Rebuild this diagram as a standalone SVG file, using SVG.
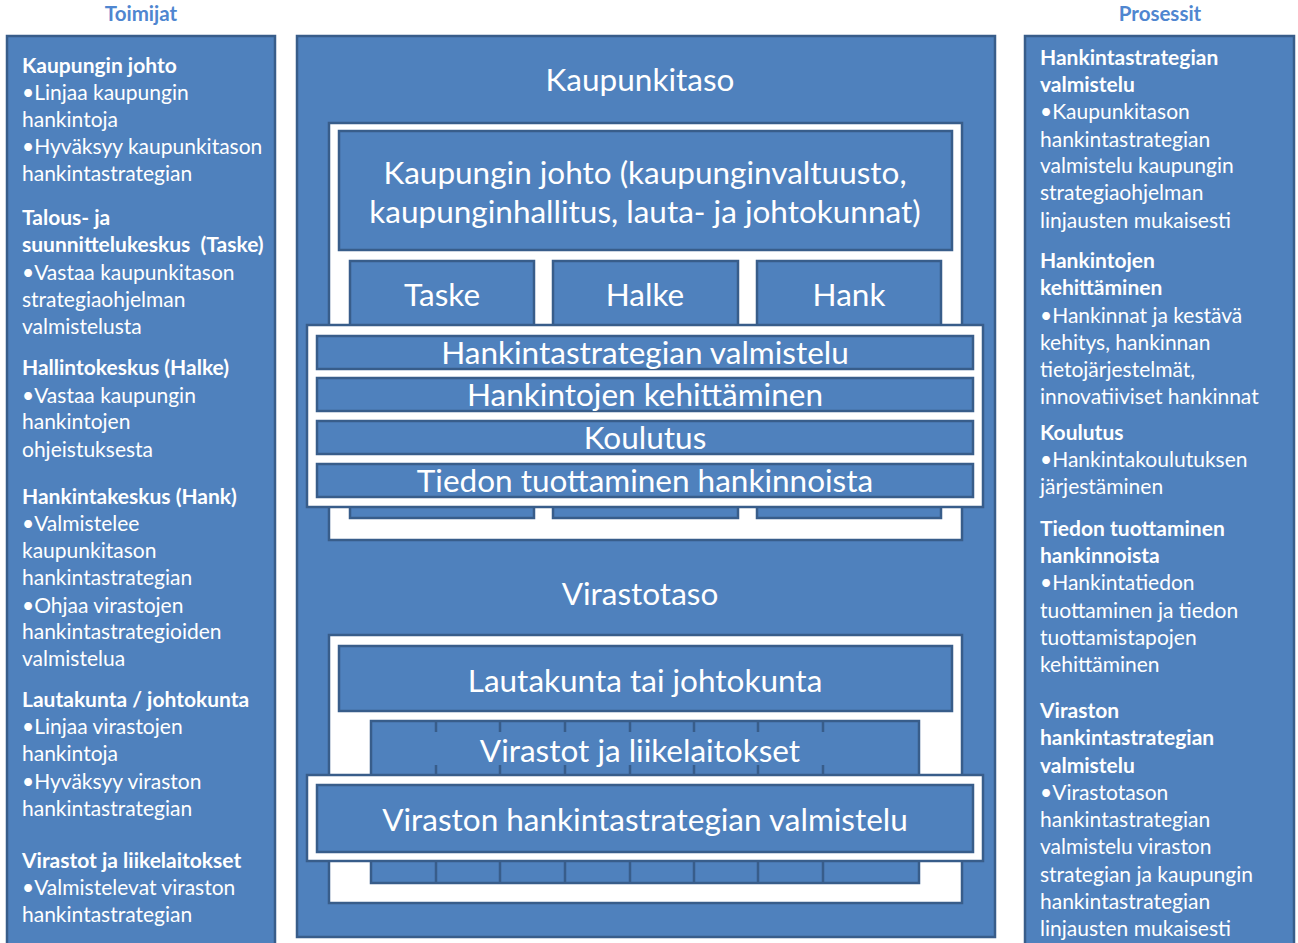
<svg xmlns="http://www.w3.org/2000/svg" width="1298" height="943" viewBox="0 0 1298 943">
<style>
.box{fill:#4F81BD;stroke:#385D8A;stroke-width:2.5}
.wbox{fill:#FFFFFF;stroke:#385D8A;stroke-width:2.5}
.seg{stroke:#385D8A;stroke-width:2.5}
text{font-family:Lato,"Open Sans","Liberation Sans",sans-serif;fill:#FFFFFF}
.hdr{font-size:20.5px;font-weight:bold;fill:#4F86D0;text-anchor:middle}
.side{font-size:21px}
.b{font-weight:bold}
.big{font-size:31.5px;text-anchor:middle}
</style>
<text class="hdr" x="141" y="21">Toimijat</text>
<text class="hdr" x="1160" y="21">Prosessit</text>

<g id="toimijat">
<rect class="box" x="7" y="36" width="268" height="912"/>
<text class="side" x="22">
<tspan class="b" x="22" y="73">Kaupungin johto</tspan>
<tspan x="22" y="100">•Linjaa kaupungin</tspan>
<tspan x="22" y="127">hankintoja</tspan>
<tspan x="22" y="154">•Hyväksyy kaupunkitason</tspan>
<tspan x="22" y="181">hankintastrategian</tspan>
<tspan class="b" x="22" y="225">Talous- ja</tspan>
<tspan class="b" x="22" y="252">suunnittelukeskus &#160;(Taske)</tspan>
<tspan x="22" y="280">•Vastaa kaupunkitason</tspan>
<tspan x="22" y="307">strategiaohjelman</tspan>
<tspan x="22" y="334">valmistelusta</tspan>
<tspan class="b" x="22" y="375">Hallintokeskus (Halke)</tspan>
<tspan x="22" y="403">•Vastaa kaupungin</tspan>
<tspan x="22" y="429">hankintojen</tspan>
<tspan x="22" y="457">ohjeistuksesta</tspan>
<tspan class="b" x="22" y="504">Hankintakeskus (Hank)</tspan>
<tspan x="22" y="531">•Valmistelee</tspan>
<tspan x="22" y="558">kaupunkitason</tspan>
<tspan x="22" y="585">hankintastrategian</tspan>
<tspan x="22" y="613">•Ohjaa virastojen</tspan>
<tspan x="22" y="639">hankintastrategioiden</tspan>
<tspan x="22" y="666">valmistelua</tspan>
<tspan class="b" x="22" y="707">Lautakunta / johtokunta</tspan>
<tspan x="22" y="734">•Linjaa virastojen</tspan>
<tspan x="22" y="761">hankintoja</tspan>
<tspan x="22" y="789">•Hyväksyy viraston</tspan>
<tspan x="22" y="816">hankintastrategian</tspan>
<tspan class="b" x="22" y="868">Virastot ja liikelaitokset</tspan>
<tspan x="22" y="895">•Valmistelevat viraston</tspan>
<tspan x="22" y="922">hankintastrategian</tspan>
</text>
</g>

<g id="prosessit">
<rect class="box" x="1025" y="36" width="269" height="912"/>
<text class="side">
<tspan class="b" x="1040" y="65">Hankintastrategian</tspan>
<tspan class="b" x="1040" y="92">valmistelu</tspan>
<tspan x="1040" y="119">•Kaupunkitason</tspan>
<tspan x="1040" y="147">hankintastrategian</tspan>
<tspan x="1040" y="173">valmistelu kaupungin</tspan>
<tspan x="1040" y="200">strategiaohjelman</tspan>
<tspan x="1040" y="228">linjausten mukaisesti</tspan>
<tspan class="b" x="1040" y="268">Hankintojen</tspan>
<tspan class="b" x="1040" y="295">kehittäminen</tspan>
<tspan x="1040" y="323">•Hankinnat ja kestävä</tspan>
<tspan x="1040" y="350">kehitys, hankinnan</tspan>
<tspan x="1040" y="377">tietojärjestelmät,</tspan>
<tspan x="1040" y="404">innovatiiviset hankinnat</tspan>
<tspan class="b" x="1040" y="440">Koulutus</tspan>
<tspan x="1040" y="467">•Hankintakoulutuksen</tspan>
<tspan x="1040" y="494">järjestäminen</tspan>
<tspan class="b" x="1040" y="536">Tiedon tuottaminen</tspan>
<tspan class="b" x="1040" y="563">hankinnoista</tspan>
<tspan x="1040" y="590">•Hankintatiedon</tspan>
<tspan x="1040" y="618">tuottaminen ja tiedon</tspan>
<tspan x="1040" y="645">tuottamistapojen</tspan>
<tspan x="1040" y="672">kehittäminen</tspan>
<tspan class="b" x="1040" y="718">Viraston</tspan>
<tspan class="b" x="1040" y="745">hankintastrategian</tspan>
<tspan class="b" x="1040" y="773">valmistelu</tspan>
<tspan x="1040" y="800">•Virastotason</tspan>
<tspan x="1040" y="827">hankintastrategian</tspan>
<tspan x="1040" y="854">valmistelu viraston</tspan>
<tspan x="1040" y="882">strategian ja kaupungin</tspan>
<tspan x="1040" y="909">hankintastrategian</tspan>
<tspan x="1040" y="936">linjausten mukaisesti</tspan>
</text>
</g>

<g id="keskipaneeli">
<rect class="box" x="297" y="36" width="698" height="901"/>
<text class="big" x="640" y="91">Kaupunkitaso</text>
<text class="big" x="640" y="605">Virastotaso</text>
</g>

<g id="kaupunkitaso">
<rect class="wbox" x="329" y="123" width="633" height="417"/>
<g id="kaupungin-johto">
<rect class="box" x="339" y="131" width="613" height="119"/>
<text class="big" x="645" y="184">Kaupungin johto (kaupunginvaltuusto,</text>
<text class="big" x="645" y="223">kaupunginhallitus, lauta- ja johtokunnat)</text>
</g>
<g id="taske"><rect class="box" x="350" y="261" width="184" height="257"/><text class="big" x="442" y="306">Taske</text></g>
<g id="halke"><rect class="box" x="553" y="261" width="185" height="257"/><text class="big" x="645" y="306">Halke</text></g>
<g id="hank"><rect class="box" x="757" y="261" width="184" height="257"/><text class="big" x="849" y="306">Hank</text></g>
<g id="prosessikerros">
<rect class="wbox" x="307" y="325" width="676" height="182"/>
<g id="p1"><rect class="box" x="317" y="336" width="656" height="33"/><text class="big" x="645" y="364">Hankintastrategian valmistelu</text></g>
<g id="p2"><rect class="box" x="317" y="378" width="656" height="33"/><text class="big" x="645" y="406">Hankintojen kehittäminen</text></g>
<g id="p3"><rect class="box" x="317" y="421" width="656" height="33"/><text class="big" x="645" y="449">Koulutus</text></g>
<g id="p4"><rect class="box" x="317" y="464" width="656" height="33"/><text class="big" x="645" y="492">Tiedon tuottaminen hankinnoista</text></g>
</g>
</g>

<g id="virastotaso">
<rect class="wbox" x="329" y="635" width="633" height="268"/>
<g id="lautakunta">
<rect class="box" x="339" y="646" width="613" height="65"/>
<text class="big" x="645" y="692">Lautakunta tai johtokunta</text>
</g>
<g id="virastot">
<rect class="box" x="371" y="721" width="548" height="162"/>
<g class="seg">
<path d="M436 722V732M500 722V732M565 722V732M630 722V732M694 722V732M758 722V732M823 722V732"/>
<path d="M436 765V776M500 765V776M565 765V776M630 765V776M694 765V776M758 765V776M823 765V776"/>
<path d="M436 861V883M500 861V883M565 861V883M630 861V883M694 861V883M758 861V883M823 861V883"/>
</g>
<text class="big" x="640" y="762">Virastot ja liikelaitokset</text>
</g>
<g id="viraston-prosessi">
<rect class="wbox" x="307" y="775" width="676" height="86"/>
<rect class="box" x="317" y="785" width="656" height="67"/>
<text class="big" x="645" y="831">Viraston hankintastrategian valmistelu</text>
</g>
</g>
</svg>
